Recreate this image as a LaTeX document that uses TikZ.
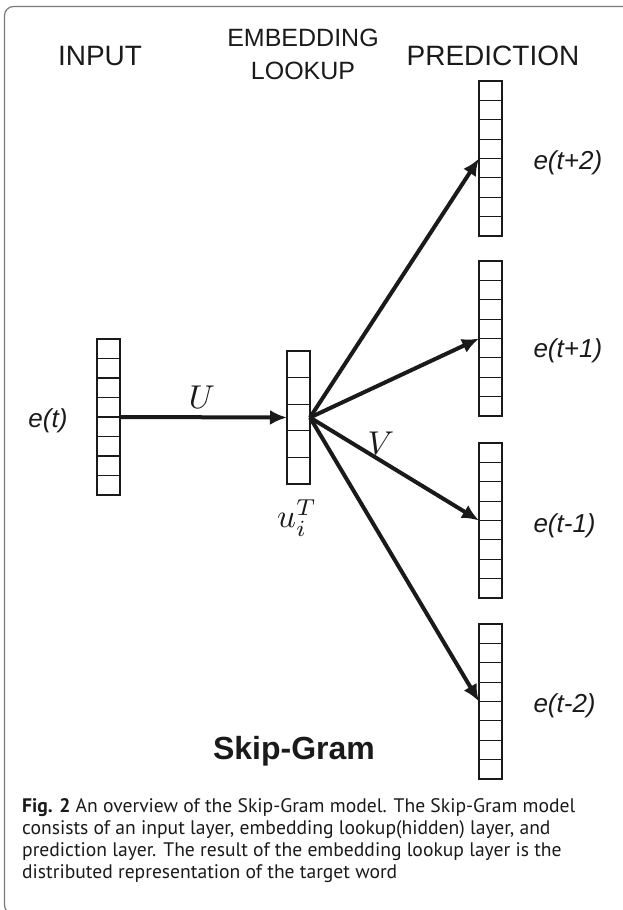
\documentclass[tikz,border=0pt]{standalone}
\usepackage{amsmath}
\usepackage{graphicx}
\usepackage{fontspec}
\setmainfont{Liberation Sans}
\newfontfamily\capfont{PT Sans}
\usepackage{tikz}
\usetikzlibrary{arrows.meta,positioning}
\definecolor{ink}{HTML}{1a1a1a}
\definecolor{frm}{HTML}{7a7a7a}

\begin{document}
\begin{tikzpicture}[x=1pt,y=-1pt,
  vecbox/.style={draw=ink,line width=1.2pt,minimum width=23pt,inner sep=0pt,outer sep=0pt},
  cellline/.style={draw=ink,line width=1.2pt},
  arr/.style={draw=ink,line width=4pt,-{Latex[length=17pt,width=15pt]}},
  head/.style={text=ink,font=\fontsize{28}{32}\selectfont},
  ctx/.style={text=ink,anchor=west,font=\fontsize{26}{28}\selectfont\itshape},
  mth/.style={text=ink,inner sep=0pt}]
\useasboundingbox (0,0) rectangle (623,910);
\clip (0,0) rectangle (623,910);
\draw[frm,line width=1.2pt,rounded corners=9pt] (4.5,6.5) rectangle (680,914);

% layer titles
\node[head] (tin) at (100,56) {INPUT};
\node[head,align=center,font=\fontsize{25}{33}\selectfont] (temb) at (303,54) {EMBEDDING\\LOOKUP};
\node[head] (tpred) at (493,56) {PREDICTION};

% input word vector
\node[vecbox,minimum height=156pt] (inp) at (108.5,417) {};
\foreach \k in {1,...,7}
  \draw[cellline] ([yshift=-\k*19.5pt]inp.north west) -- ([yshift=-\k*19.5pt]inp.north east);

% embedding lookup
\node[vecbox,minimum height=133pt] (emb) at (298.5,417.5) {};
\foreach \k in {1,...,4}
  \draw[cellline] ([yshift=-\k*26.6pt]emb.north west) -- ([yshift=-\k*26.6pt]emb.north east);

% context predictions
\foreach \nm/\yc in {p1/158.5,p2/338.5,p3/520.5,p4/701.5}{
  \node[vecbox,minimum height=155pt] (\nm) at (490.5,\yc) {};
  \foreach \k in {1,...,7}
    \draw[cellline] ([yshift=-\k*19.375pt]\nm.north west) -- ([yshift=-\k*19.375pt]\nm.north east);
}

\node[ctx,anchor=east] (et) at (71,421) {e(t)};
\node[ctx] (ep2) at (530,163) {e(t+2)};
\node[ctx] (ep1) at (530,351) {e(t+1)};
\node[ctx] (em1) at (530,526) {e(t-1)};
\node[ctx] (em2) at (530,706) {e(t-2)};

\draw[arr] (inp.east) -- (emb.west);
\foreach \nm in {p1,p2,p3,p4}
  \draw[arr] (emb.east) -- (\nm.west);

\node[mth] (U) at (202,397) {\scalebox{3.3}{$U$}};
\node[mth] (V) at (381,443) {\scalebox{3.3}{$V$}};
\node[mth] (uiT) at (297,518) {\scalebox{3.3}{$u_i^T$}};

\node[text=ink,anchor=base,font=\fontsize{32}{34}\selectfont\bfseries] (title) at (294,759) {Skip-Gram};

\node[anchor=base west,align=left,inner sep=0pt,text=ink,
  font=\capfont\fontsize{19.6}{21.7}\selectfont] (cap) at (22,878)
  {\textbf{Fig. 2} An overview of the Skip-Gram model. The Skip-Gram model\\
   consists of an input layer, embedding lookup(hidden) layer, and\\
   prediction layer. The result of the embedding lookup layer is the\\
   distributed representation of the target word};
\end{tikzpicture}
\end{document}
